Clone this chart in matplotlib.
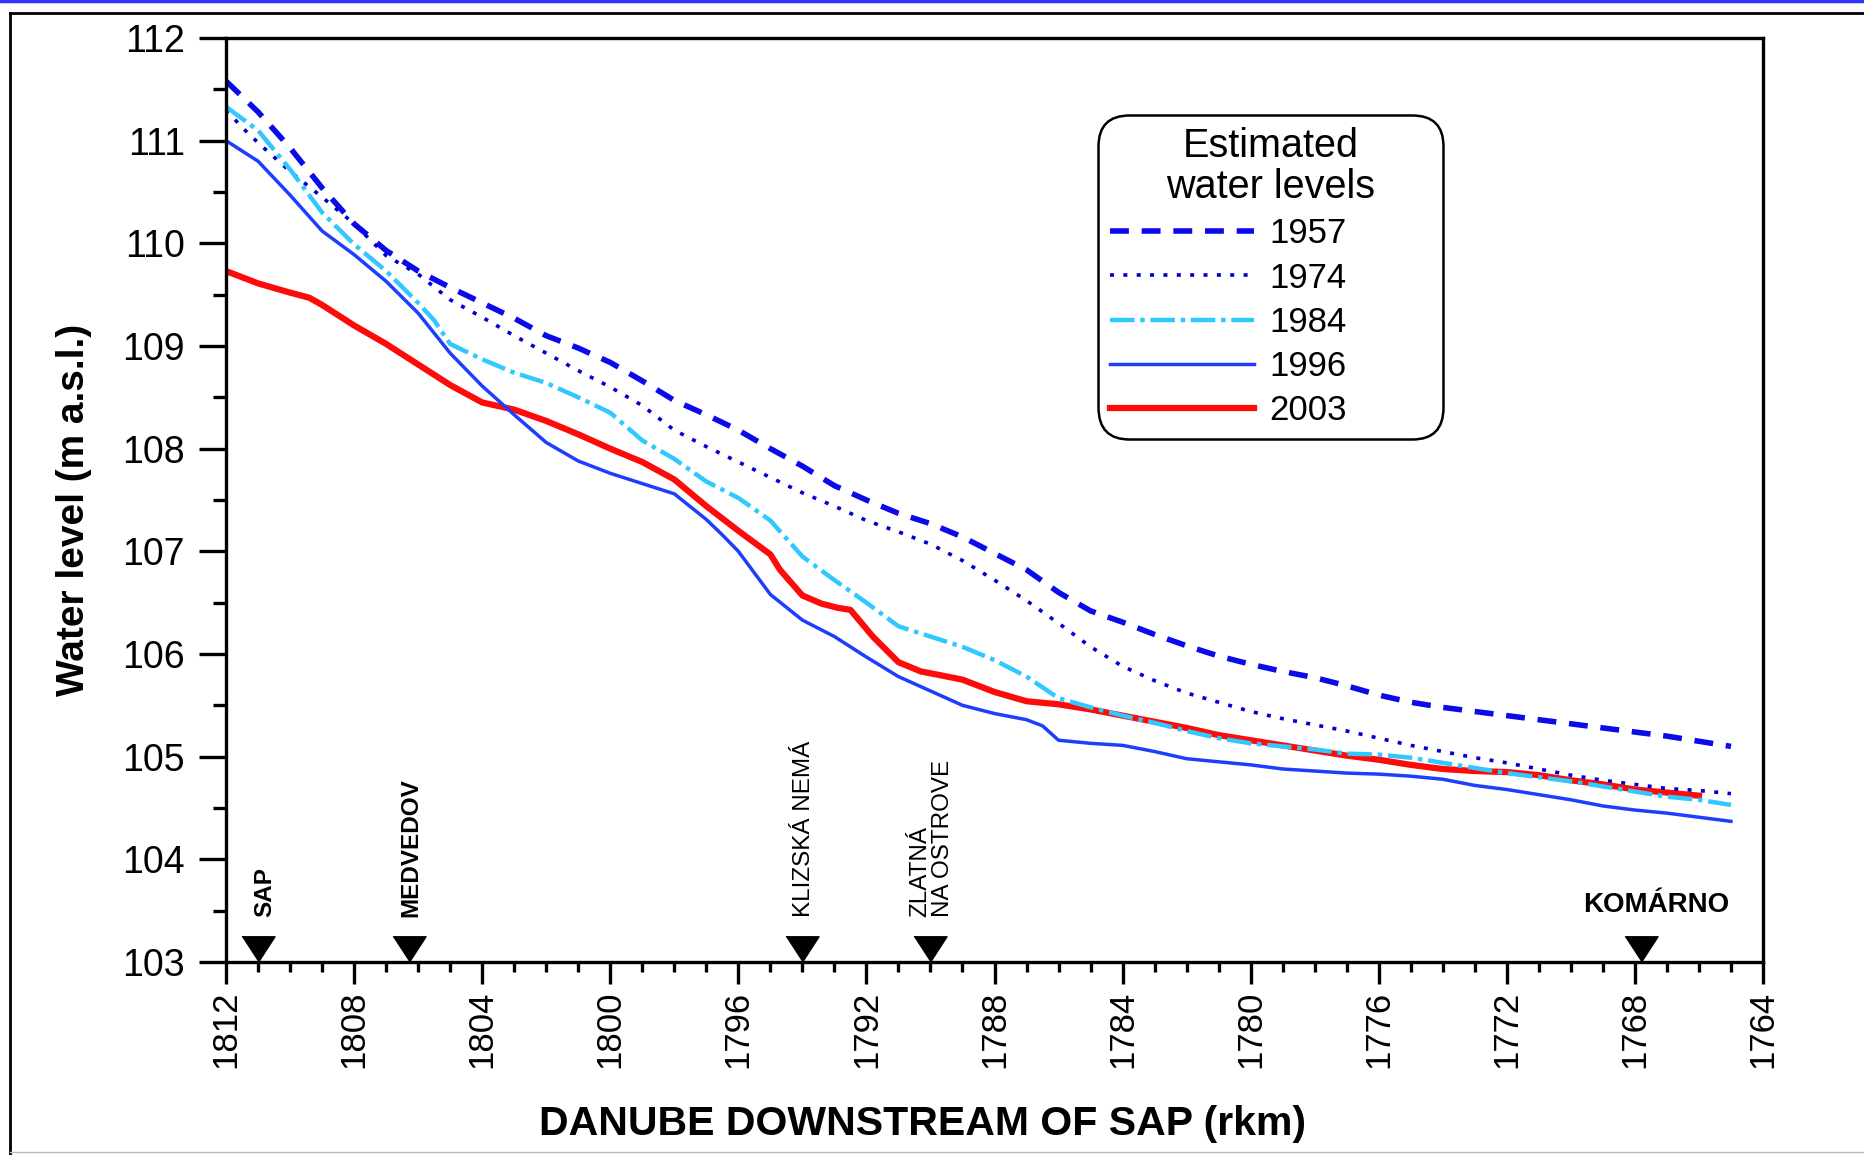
import matplotlib.pyplot as plt
from matplotlib.lines import Line2D
from matplotlib.ticker import MultipleLocator

plt.rcParams['font.family'] = ['Liberation Sans', 'DejaVu Sans']

# estimated water levels along the Danube (rkm -> m a.s.l.)
km_1957 = [1812, 1811, 1810, 1809, 1808, 1807, 1806, 1805, 1804, 1803, 1802, 1801,
           1800, 1799, 1798, 1797, 1796, 1795, 1794, 1793, 1792, 1791, 1790, 1789,
           1788, 1787, 1786, 1785, 1784, 1783, 1782, 1781, 1780, 1779, 1778, 1777,
           1776, 1775, 1774, 1773, 1772, 1771, 1770, 1769, 1768, 1767, 1766, 1765]
wl_1957 = [111.58, 111.28, 110.93, 110.54, 110.19, 109.93, 109.73, 109.57, 109.42, 109.27,
           109.10, 108.98, 108.84, 108.66, 108.47, 108.33, 108.18, 108.00, 107.83, 107.64,
           107.50, 107.37, 107.27, 107.14, 106.98, 106.82, 106.60, 106.42, 106.31, 106.19,
           106.08, 105.98, 105.90, 105.83, 105.77, 105.69, 105.60, 105.53, 105.48, 105.44,
           105.40, 105.36, 105.32, 105.28, 105.24, 105.20, 105.15, 105.10]

km_1974 = [1812, 1811.5, 1811, 1810, 1809, 1808, 1807, 1806, 1805, 1804, 1803, 1802,
           1801, 1800, 1799, 1798, 1797, 1796, 1795, 1794, 1793, 1792, 1791, 1790,
           1789, 1788, 1787, 1786, 1785, 1784, 1783, 1782, 1781, 1780, 1779, 1778,
           1777, 1776, 1775, 1774, 1773, 1772, 1771, 1770, 1769, 1768, 1767, 1766, 1765]
wl_1974 = [111.30, 111.13, 110.98, 110.70, 110.45, 110.19, 109.88, 109.70, 109.45, 109.28,
           109.10, 108.93, 108.76, 108.60, 108.42, 108.18, 108.02, 107.87, 107.72, 107.57,
           107.44, 107.30, 107.19, 107.07, 106.91, 106.72, 106.52, 106.30, 106.07, 105.88,
           105.74, 105.62, 105.53, 105.44, 105.37, 105.31, 105.25, 105.18, 105.11, 105.05,
           104.99, 104.94, 104.88, 104.82, 104.77, 104.73, 104.69, 104.67, 104.64]

km_1984 = [1812, 1811, 1810, 1809, 1808, 1807, 1806, 1805.5, 1805, 1804, 1803, 1802,
           1801, 1800, 1799, 1798, 1797, 1796, 1795, 1794, 1793, 1792, 1791, 1790,
           1789, 1788, 1787, 1786, 1785, 1784, 1783, 1782, 1781, 1780, 1779, 1778,
           1777, 1776, 1775, 1774, 1773, 1772, 1771, 1770, 1769, 1768, 1767, 1766, 1765]
wl_1984 = [111.33, 111.10, 110.72, 110.30, 109.99, 109.73, 109.42, 109.25, 109.02, 108.87,
           108.74, 108.64, 108.50, 108.35, 108.08, 107.90, 107.68, 107.52, 107.30, 106.95,
           106.72, 106.50, 106.27, 106.17, 106.07, 105.94, 105.78, 105.57, 105.48, 105.40,
           105.33, 105.25, 105.18, 105.13, 105.10, 105.07, 105.03, 105.02, 104.99, 104.94,
           104.89, 104.84, 104.80, 104.76, 104.71, 104.66, 104.61, 104.58, 104.53]

km_1996 = [1812, 1811, 1810, 1809, 1808, 1807, 1806, 1805, 1804, 1803, 1802, 1801,
           1800, 1799, 1798, 1797, 1796.5, 1796, 1795, 1794, 1793, 1792, 1791, 1790,
           1789, 1788, 1787, 1786.5, 1786, 1785, 1784, 1783, 1782, 1781, 1780, 1779,
           1778, 1777, 1776, 1775, 1774, 1773, 1772, 1771, 1770, 1769, 1768, 1767,
           1766, 1765]
wl_1996 = [111.00, 110.80, 110.47, 110.12, 109.89, 109.63, 109.32, 108.93, 108.61, 108.33,
           108.06, 107.88, 107.76, 107.66, 107.56, 107.31, 107.16, 107.00, 106.58, 106.33,
           106.17, 105.97, 105.78, 105.64, 105.50, 105.42, 105.36, 105.30, 105.16, 105.13,
           105.11, 105.05, 104.98, 104.95, 104.92, 104.88, 104.86, 104.84, 104.83, 104.81,
           104.78, 104.72, 104.68, 104.63, 104.58, 104.52, 104.48, 104.45, 104.41, 104.37]

km_2003 = [1812, 1811, 1810, 1809.4, 1809, 1808, 1807, 1806.5, 1806, 1805, 1804, 1803,
           1802, 1801, 1800, 1799, 1798, 1797, 1796, 1795, 1794.7, 1794, 1793.4, 1792.9,
           1792.5, 1791.8, 1791, 1790.3, 1789.8, 1789, 1788, 1787, 1786, 1785, 1784,
           1783, 1782, 1781, 1780, 1779, 1778, 1777, 1776, 1775, 1774, 1773, 1772,
           1771, 1770, 1769, 1768, 1767, 1766]
wl_2003 = [109.73, 109.61, 109.52, 109.47, 109.40, 109.20, 109.02, 108.92, 108.82, 108.62,
           108.45, 108.38, 108.27, 108.14, 108.00, 107.87, 107.70, 107.44, 107.20, 106.97,
           106.82, 106.57, 106.49, 106.45, 106.43, 106.17, 105.92, 105.83, 105.80, 105.75,
           105.63, 105.54, 105.51, 105.46, 105.40, 105.34, 105.28, 105.21, 105.16, 105.11,
           105.06, 105.01, 104.97, 104.92, 104.88, 104.86, 104.85, 104.82, 104.77, 104.73,
           104.68, 104.65, 104.62]

stations = ['SAP', 'MEDVEDOV', 'KLIZSKÁ NEMÁ', 'ZLATNÁ\nNA OSTROVE', 'KOMÁRNO']
station_km = [1811.0, 1806.3, 1794.0, 1790.0, 1767.8]

fig = plt.figure(figsize=(18.65, 11.55), dpi=100)
ax = fig.add_axes([0.1212, 0.1671, 0.8241, 0.8000])

ax.plot(km_1957, wl_1957, color='#0A0AEB', lw=4, dashes=(3.4, 2.3), label='1957')
ax.plot(km_1974, wl_1974, color='#0000D0', lw=2.6, dashes=(1.1, 2.6), label='1974')
ax.plot(km_1984, wl_1984, color='#30C8FF', lw=3.2, dashes=(5.5, 1.3, 1.0, 1.3), label='1984')
ax.plot(km_1996, wl_1996, color='#1E3EFF', lw=2.5, label='1996')
ax.plot(km_2003, wl_2003, color='#FF0A0A', lw=4.5, label='2003', zorder=1.9)

ax.set_xlim(1812, 1764)
ax.set_ylim(103, 112)

# station markers sitting on the bottom axis
tri_h = 25 / 102.67
ax.plot(station_km, [103 + tri_h / 2] * len(station_km), ls='none',
        marker=[(-1.3, 1), (1.3, 1), (0, -1)], ms=23.8, color='black', clip_on=False)

label_y = 103.44
ax.text(station_km[0] - 0.2, label_y, stations[0], rotation=90, ha='center', va='bottom',
        fontsize=17.5, fontweight='bold')
ax.text(station_km[1] - 0.08, label_y, stations[1], rotation=90, ha='center', va='bottom',
        fontsize=17.5, fontweight='bold')
ax.text(station_km[2] - 0.05, label_y, stations[2], rotation=90, ha='center', va='bottom',
        fontsize=17.5)
ax.text(station_km[3] - 0.05, label_y, stations[3], rotation=90, ha='center', va='bottom',
        multialignment='left', fontsize=17.5, linespacing=1.05)
ax.text(station_km[4] - 0.45, 103.555, stations[4], ha='center', va='center',
        fontsize=20, fontweight='bold')

# axes styling
ax.xaxis.set_major_locator(MultipleLocator(4))
ax.xaxis.set_minor_locator(MultipleLocator(1))
ax.yaxis.set_major_locator(MultipleLocator(1))
ax.yaxis.set_minor_locator(MultipleLocator(0.5))
ax.tick_params(axis='x', which='major', direction='out', length=16, width=2.4,
               labelsize=25, pad=4.5, labelrotation=90)
ax.tick_params(axis='x', which='minor', direction='out', length=7, width=2.4)
ax.tick_params(axis='y', which='major', direction='out', length=19.5, width=2.4,
               labelsize=27, pad=10)
ax.tick_params(axis='y', which='minor', direction='out', length=9.5, width=2.4)
for sp in ax.spines.values():
    sp.set_linewidth(2.4)

ax.set_xlabel('DANUBE DOWNSTREAM OF SAP (rkm)', fontsize=29.5, fontweight='bold')
ax.xaxis.set_label_coords(0.453, -0.155)
ax.set_ylabel('Water level (m a.s.l.)', fontsize=28, fontweight='bold')
ax.yaxis.set_label_coords(-0.087, 0.489)

leg = ax.legend(title='Estimated\nwater levels', loc='upper left',
                bbox_to_anchor=(0.5673, 0.5725, 0.2245, 0.3442), mode='expand',
                borderaxespad=0, fontsize=25, title_fontsize=28.5, handlelength=4.15,
                handletextpad=0.45, borderpad=0.34, labelspacing=0.32,
                framealpha=1, fancybox=True)
leg.get_title().set_multialignment('center')
leg.get_title().set_linespacing(1.12)
frame = leg.get_frame()
frame.set_edgecolor('black')
frame.set_linewidth(1.8)
frame.set_boxstyle('round', pad=0, rounding_size=0.9)

# page frame around the figure
fig.add_artist(Line2D([0, 1], [0.9991, 0.9991], color='#3333FF', lw=2.5,
                      transform=fig.transFigure))
fig.add_artist(Line2D([0.0054, 1], [0.9887, 0.9887], color='black', lw=2,
                      transform=fig.transFigure))
fig.add_artist(Line2D([0.0054, 0.0054], [0, 0.9887], color='black', lw=2,
                      transform=fig.transFigure))
fig.add_artist(Line2D([0.0054, 1], [0.0022, 0.0022], color='#BBBBBB', lw=1,
                      transform=fig.transFigure))

fig.savefig('out.png', dpi=100)
